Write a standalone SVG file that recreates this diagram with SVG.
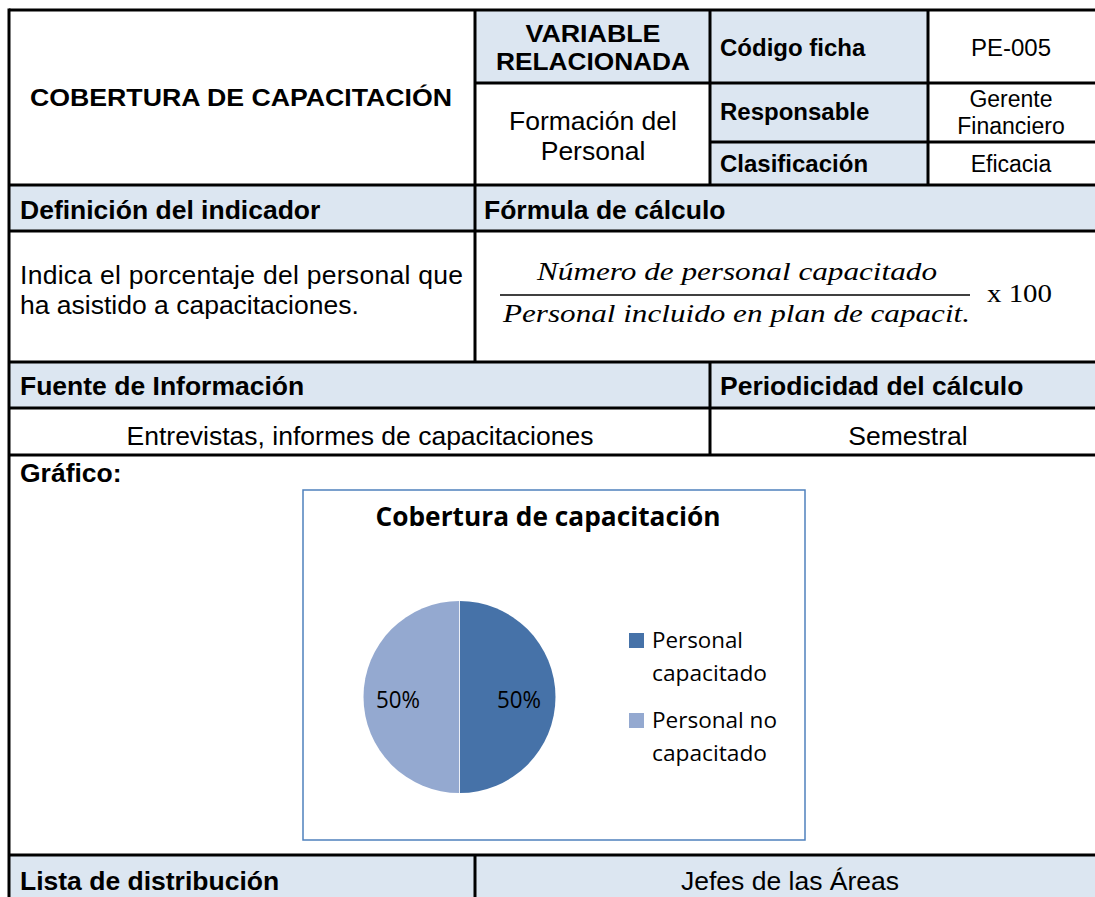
<svg xmlns="http://www.w3.org/2000/svg" width="1095" height="897" viewBox="0 0 1095 897">
<style>
.hd{fill:#DCE6F1}
.wh{fill:#FFFFFF}
.ln{stroke:#000;stroke-width:3;fill:none}
.b{font-family:"Liberation Sans",Arial,sans-serif;font-weight:bold;font-size:26.5px;fill:#000}
.r{font-family:"Liberation Sans",Arial,sans-serif;font-size:26.5px;fill:#000}
.bs{font-family:"Liberation Sans",Arial,sans-serif;font-weight:bold;font-size:24px;fill:#000}
.rm{font-family:"Liberation Sans",Arial,sans-serif;font-size:24px;fill:#000}
.rs{font-family:"Liberation Sans",Arial,sans-serif;font-size:23px;fill:#000}
.m{font-family:"Liberation Serif","Times New Roman",serif;font-style:italic;font-size:25px;fill:#000}
.mu{font-family:"Liberation Serif","Times New Roman",serif;font-size:25px;fill:#000}
.c{font-family:"Open Sans","Noto Sans",sans-serif;font-size:21.5px;fill:#000}
.cp{font-family:"Open Sans","Noto Sans",sans-serif;font-size:23px;fill:#000}
.ct{font-family:"Open Sans","Noto Sans",sans-serif;font-weight:bold;font-size:27.5px;fill:#000}
.mid{text-anchor:middle}
</style>
<rect width="1095" height="897" fill="#FFFFFF"/>
<g id="cell-title">
<rect class="wh" x="9" y="10" width="466" height="175"/>
<text class="bs mid" x="241" y="106" textLength="422" lengthAdjust="spacingAndGlyphs">COBERTURA DE CAPACITACIÓN</text>
</g>
<g id="cell-variable">
<rect class="hd" x="475" y="10" width="235" height="73"/>
<text class="bs mid" x="593" y="42" textLength="135" lengthAdjust="spacingAndGlyphs">VARIABLE</text>
<text class="bs mid" x="593" y="70" textLength="194" lengthAdjust="spacingAndGlyphs">RELACIONADA</text>
</g>
<g id="cell-formacion">
<rect class="wh" x="475" y="83" width="235" height="102"/>
<text class="r mid" x="593" y="130" font-size="26">Formación del</text>
<text class="r mid" x="593" y="160" font-size="26">Personal</text>
</g>
<g id="cell-codigo">
<rect class="hd" x="710" y="10" width="218" height="73"/>
<text class="bs" x="720" y="56">Código ficha</text>
<rect class="wh" x="928" y="10" width="167" height="73"/>
<text class="rm mid" x="1011" y="56">PE-005</text>
</g>
<g id="cell-responsable">
<rect class="hd" x="710" y="83" width="218" height="59"/>
<text class="bs" x="720" y="120">Responsable</text>
<rect class="wh" x="928" y="83" width="167" height="59"/>
<text class="rs mid" x="1011" y="107">Gerente</text>
<text class="rs mid" x="1011" y="134">Financiero</text>
</g>
<g id="cell-clasificacion">
<rect class="hd" x="710" y="142" width="218" height="43"/>
<text class="bs" x="720" y="172">Clasificación</text>
<rect class="wh" x="928" y="142" width="167" height="43"/>
<text class="rs mid" x="1011" y="172">Eficacia</text>
</g>
<g id="row-definicion">
<rect class="hd" x="9" y="185" width="1086" height="46"/>
<text class="b" x="20" y="219">Definición del indicador</text>
<text class="b" x="484" y="219">Fórmula de cálculo</text>
</g>
<g id="cell-indica">
<text class="r" x="20" y="284" textLength="443" lengthAdjust="spacing">Indica el porcentaje del personal que</text>
<text class="r" x="20" y="314">ha asistido a capacitaciones.</text>
</g>
<g id="cell-formula">
<text class="m" x="537" y="280" textLength="400" lengthAdjust="spacingAndGlyphs">Número de personal capacitado</text>
<line x1="500" y1="295" x2="970" y2="295" stroke="#000" stroke-width="1.6"/>
<text class="m" x="503" y="322" textLength="467" lengthAdjust="spacingAndGlyphs">Personal incluido en plan de capacit.</text>
<text class="mu" x="987" y="302" textLength="65" lengthAdjust="spacingAndGlyphs">x 100</text>
</g>
<g id="row-fuente">
<rect class="hd" x="9" y="362" width="1086" height="46"/>
<text class="b" x="20" y="395">Fuente de Información</text>
<text class="b" x="720" y="395">Periodicidad del cálculo</text>
<text class="r mid" x="360" y="445">Entrevistas, informes de capacitaciones</text>
<text class="r mid" x="908" y="445">Semestral</text>
</g>
<g id="cell-grafico">
<text class="b" x="20" y="482">Gráfico:</text>
</g>
<g id="chart">
<rect x="303" y="490" width="502" height="350" fill="#FFFFFF" stroke="#4F81BD" stroke-width="1.5"/>
<text class="ct mid" x="548" y="526" textLength="345" lengthAdjust="spacingAndGlyphs">Cobertura de capacitación</text>
<path d="M459.5,601 A96,96 0 0 1 459.5,793 Z" fill="#4672A8"/>
<path d="M459.5,793 A96,96 0 0 1 459.5,601 Z" fill="#94A9D0"/>
<line x1="459.5" y1="601" x2="459.5" y2="793" stroke="#FFFFFF" stroke-width="0.8"/>
<text class="cp" x="376" y="708" textLength="44" lengthAdjust="spacingAndGlyphs">50%</text>
<text class="cp" x="497" y="708" textLength="44" lengthAdjust="spacingAndGlyphs">50%</text>
<rect x="629" y="633" width="15" height="15" fill="#4672A8"/>
<text class="c" x="652" y="648" textLength="91" lengthAdjust="spacingAndGlyphs">Personal</text>
<text class="c" x="652" y="681" textLength="115" lengthAdjust="spacingAndGlyphs">capacitado</text>
<rect x="629" y="713" width="15" height="15" fill="#94A9D0"/>
<text class="c" x="652" y="728" textLength="125" lengthAdjust="spacingAndGlyphs">Personal no</text>
<text class="c" x="652" y="761" textLength="115" lengthAdjust="spacingAndGlyphs">capacitado</text>
</g>
<g id="row-lista">
<rect class="hd" x="9" y="855" width="1086" height="42"/>
<text class="b" x="20" y="890">Lista de distribución</text>
<text class="r mid" x="790" y="890">Jefes de las Áreas</text>
</g>
<g id="connectors">
<path class="ln" d="M9,10 H1095 M475,83 H1095 M710,142 H1095 M9,185 H1095 M9,231 H1095 M9,362 H1095 M9,408 H1095 M9,455 H1095 M9,855 H1095"/>
<path class="ln" d="M9,8.5 V897 M475,10 V362 M475,855 V897 M710,10 V185 M928,10 V185 M710,362 V455"/>
</g>
</svg>
